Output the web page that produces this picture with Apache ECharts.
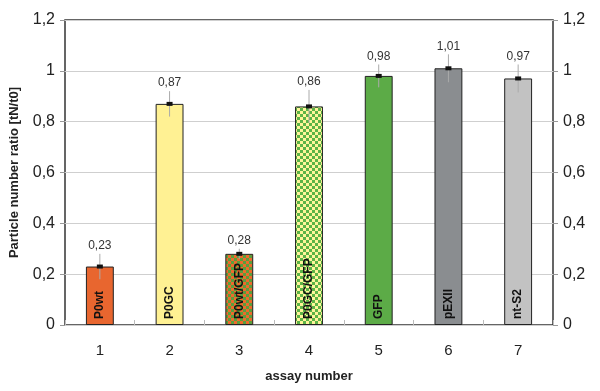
<!DOCTYPE html>
<html>
<head>
<meta charset="utf-8">
<script src="https://cdn.jsdelivr.net/npm/echarts@6/dist/echarts.min.js"></script>
<style>
  html, body { margin: 0; padding: 0; background: #fff; }
  #chart { width: 600px; height: 391px; }
</style>
</head>
<body>
<div id="chart"></div>
<script>
const assays = ['1', '2', '3', '4', '5', '6', '7'];
const barNames = ['P0wt', 'P0GC', 'P0wt/GFP', 'P0GC/GFP', 'GFP', 'pEXII', 'nt-S2'];
const ratios = [0.23, 0.87, 0.28, 0.86, 0.98, 1.01, 0.97];
const errors = [0.05, 0.05, 0.02, 0.065, 0.045, 0.055, 0.055];

function checker(c1, c2) {
    const cv = document.createElement('canvas');
    cv.width = 6; cv.height = 6;
    const ctx = cv.getContext('2d');
    ctx.fillStyle = c1; ctx.fillRect(0, 0, 6, 6);
    ctx.fillStyle = c2; ctx.fillRect(0, 0, 3, 3); ctx.fillRect(3, 3, 3, 3);
    return { image: cv, repeat: 'repeat' };
}

const fills = [
    '#e8662f',
    '#fff193',
    checker('#ee6a2c', '#5a9f3c'),
    checker('#fff59a', '#5cb446'),
    '#5cab47',
    '#8a8d90',
    '#c2c2c2'
];

const fmt = v => String(+v.toFixed(2)).replace('.', ',');

const chart = echarts.init(document.getElementById('chart'));
const yAxisBase = {
    type: 'value',
    min: 0, max: 1.2, interval: 0.2,
    axisLine: { show: false },
    axisTick: { show: true, length: 5, lineStyle: { color: '#999' } },
    axisLabel: { color: '#222', fontSize: 16, margin: 10, formatter: fmt },
    splitLine: { show: false }
};

chart.setOption({
    animation: false,
    textStyle: { fontFamily: 'Liberation Sans, Arial, sans-serif' },
    grid: { left: 65, right: 47, top: 20, bottom: 66, show: true, borderColor: '#333', borderWidth: 1.5, backgroundColor: '#fff' },
    xAxis: {
        type: 'category',
        data: assays,
        name: 'assay number',
        nameLocation: 'middle',
        nameGap: 45,
        nameTextStyle: { fontWeight: 'bold', fontSize: 13, color: '#222' },
        axisLine: { show: false },
        axisTick: { show: true, inside: true, length: 5, lineStyle: { color: '#bbb' } },
        axisLabel: { color: '#222', fontSize: 15, margin: 18 }
    },
    yAxis: [
        Object.assign({}, yAxisBase, {
            name: 'Particle number ratio [tN/t0]',
            nameLocation: 'middle',
            nameGap: 44,
            nameTextStyle: { fontWeight: 'bold', fontSize: 13, color: '#222' },
            splitLine: { show: true, lineStyle: { color: '#cfcfcf' } }
        }),
        Object.assign({}, yAxisBase, { position: 'right' })
    ],
    series: [
        {
            type: 'bar',
            barWidth: '40%',
            data: ratios.map((v, i) => ({
                value: v,
                itemStyle: { color: fills[i] },
                label: { formatter: barNames[i] }
            })),
            itemStyle: { borderColor: '#222', borderWidth: 1 },
            label: {
                show: true,
                position: 'insideBottom',
                rotate: 90,
                align: 'left',
                verticalAlign: 'middle',
                distance: 6,
                color: '#111',
                fontSize: 12,
                fontWeight: 'bold'
            }
        },
        {
            type: 'custom',
            data: ratios.map((v, i) => [i, v, errors[i]]),
            renderItem: (params, api) => {
                const i = api.value(0), v = api.value(1), e = api.value(2);
                const top = api.coord([i, v]);
                const hi = api.coord([i, v + e]);
                const lo = api.coord([i, v - e]);
                return {
                    type: 'group',
                    children: [
                        { type: 'line', shape: { x1: top[0], y1: hi[1], x2: top[0], y2: lo[1] }, style: { stroke: '#aaa', lineWidth: 1 } },
                        { type: 'rect', shape: { x: top[0] - 3, y: top[1] - 2, width: 6, height: 4 }, style: { fill: '#111' } },
                        { type: 'text', x: top[0], y: hi[1] - 2, style: { text: fmt(v), fill: '#333', fontSize: 12, align: 'center', verticalAlign: 'bottom', fontFamily: 'Liberation Sans, Arial, sans-serif' } }
                    ]
                };
            },
            z: 5
        }
    ]
});
</script>
</body>
</html>
